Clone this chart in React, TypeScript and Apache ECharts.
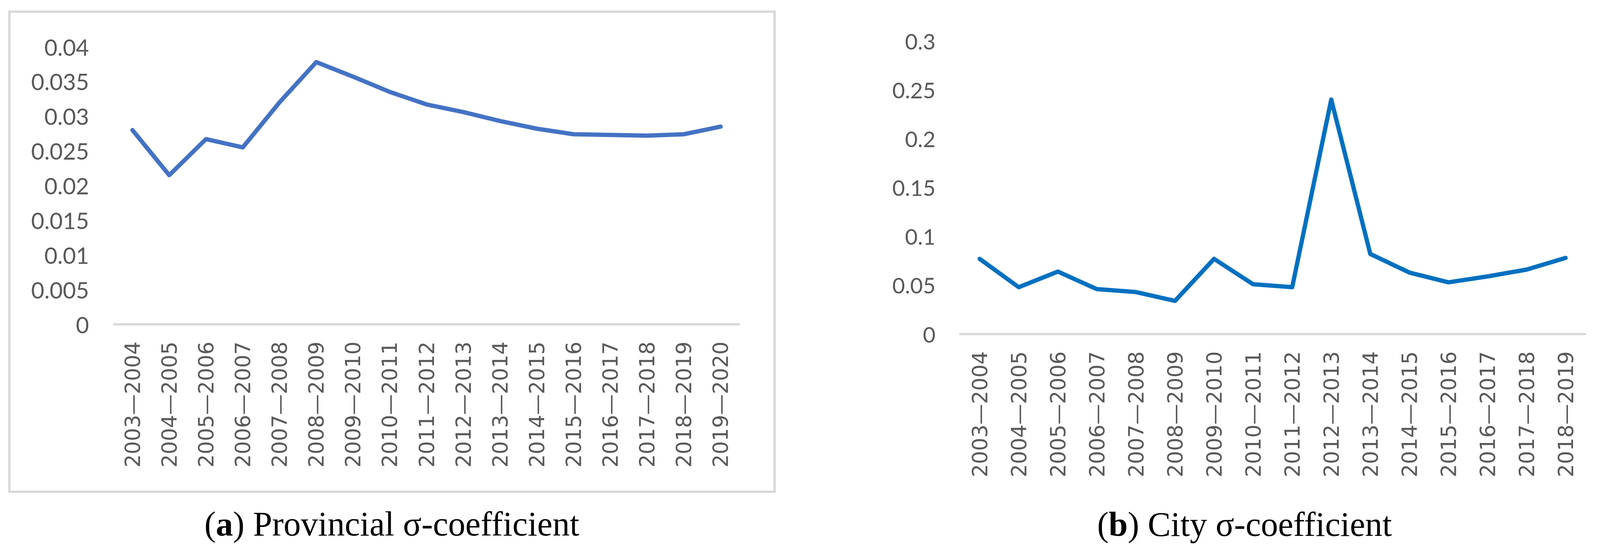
import React, { useEffect, useRef } from "react";
import * as echarts from "echarts";

const provCategories = [
  "2003—2004", "2004—2005", "2005—2006", "2006—2007", "2007—2008", "2008—2009",
  "2009—2010", "2010—2011", "2011—2012", "2012—2013", "2013—2014", "2014—2015",
  "2015—2016", "2016—2017", "2017—2018", "2018—2019", "2019—2020",
];
const provValues = [
  0.028, 0.0215, 0.0267, 0.0255, 0.032, 0.0378, 0.0357, 0.0335, 0.0317,
  0.0306, 0.0293, 0.0282, 0.0274, 0.0273, 0.0272, 0.0274, 0.0285,
];
const cityCategories = [
  "2003—2004", "2004—2005", "2005—2006", "2006—2007", "2007—2008", "2008—2009",
  "2009—2010", "2010—2011", "2011—2012", "2012—2013", "2013—2014", "2014—2015",
  "2015—2016", "2016—2017", "2017—2018", "2018—2019",
];
const cityValues = [
  0.077, 0.048, 0.064, 0.046, 0.043, 0.034, 0.077, 0.051, 0.048, 0.24,
  0.082, 0.063, 0.053, 0.059, 0.066, 0.078,
];
const provYMax = 0.04;
const provYStep = 0.005;
const cityYMax = 0.3;
const cityYStep = 0.05;
const captionA = { tag: "a", text: " Provincial σ-coefficient" };
const captionB = { tag: "b", text: " City σ-coefficient" };

const fmt = (v: number) => String(parseFloat(v.toFixed(4)));

export default function App() {
  const ref = useRef<HTMLDivElement>(null);
  useEffect(() => {
    if (!ref.current) return;
    const chart = echarts.init(ref.current, null, { renderer: "svg" });
    const xAxisCommon = (data: string[], gridIndex: number) => ({
      type: "category" as const,
      gridIndex,
      data,
      boundaryGap: true,
      axisLine: { show: true, lineStyle: { color: "#d9d9d9", width: 6 } },
      axisTick: { show: false },
      splitLine: { show: false },
      axisLabel: {
        rotate: 90,
        interval: 0,
        margin: 44,
        color: "#595959",
        fontFamily: "DejaVu Sans",
        fontSize: 53,
      },
    });
    const yAxisCommon = (gridIndex: number, max: number, step: number, size: number, margin: number) => ({
      type: "value" as const,
      gridIndex,
      min: 0,
      max,
      interval: step,
      axisLine: { show: false },
      axisTick: { show: false },
      splitLine: { show: false },
      axisLabel: {
        margin,
        color: "#595959",
        fontFamily: "Lato",
        fontSize: size,
        formatter: (v: number) => fmt(v),
      },
    });
    chart.setOption({
      animation: false,
      backgroundColor: "#ffffff",
      grid: [
        { left: 292, top: 120, width: 1600, height: 711 },
        { left: 2458, top: 105, width: 1600, height: 751 },
      ],
      xAxis: [xAxisCommon(provCategories, 0), xAxisCommon(cityCategories, 1)],
      yAxis: [
        yAxisCommon(0, provYMax, provYStep, 58, 64),
        yAxisCommon(1, cityYMax, cityYStep, 56, 63),
      ],
      series: [
        {
          type: "line",
          xAxisIndex: 0,
          yAxisIndex: 0,
          data: provValues,
          symbol: "none",
          smooth: false,
          lineStyle: { color: "#4472C4", width: 11, cap: "round", join: "round" },
        },
        {
          type: "line",
          xAxisIndex: 1,
          yAxisIndex: 1,
          data: cityValues,
          symbol: "none",
          smooth: false,
          lineStyle: { color: "#0070C0", width: 11, cap: "round", join: "round" },
        },
      ],
      graphic: [
        {
          type: "rect",
          shape: { x: 24, y: 30, width: 1959, height: 1230 },
          style: { fill: "none", stroke: "#d9d9d9", lineWidth: 6 },
          silent: true,
        },
        {
          type: "text",
          x: 1003,
          y: 1342,
          style: {
            text: `{n|(}{b|${captionA.tag}}{n|)${captionA.text}}`,
            align: "center",
            verticalAlign: "middle",
            rich: {
              n: { fontFamily: "Liberation Serif", fontSize: 88, fill: "#000" },
              b: { fontFamily: "Liberation Serif", fontSize: 88, fontWeight: "bold", fill: "#000" },
            },
          },
        },
        {
          type: "text",
          x: 3186,
          y: 1343,
          style: {
            text: `{n|(}{b|${captionB.tag}}{n|)${captionB.text}}`,
            align: "center",
            verticalAlign: "middle",
            rich: {
              n: { fontFamily: "Liberation Serif", fontSize: 88, fill: "#000" },
              b: { fontFamily: "Liberation Serif", fontSize: 88, fontWeight: "bold", fill: "#000" },
            },
          },
        },
      ],
    });
    return () => chart.dispose();
  }, []);
  return (
    <div
      ref={ref}
      style={{ position: "absolute", left: 0, top: 0, width: 4110, height: 1422 }}
    />
  );
}
